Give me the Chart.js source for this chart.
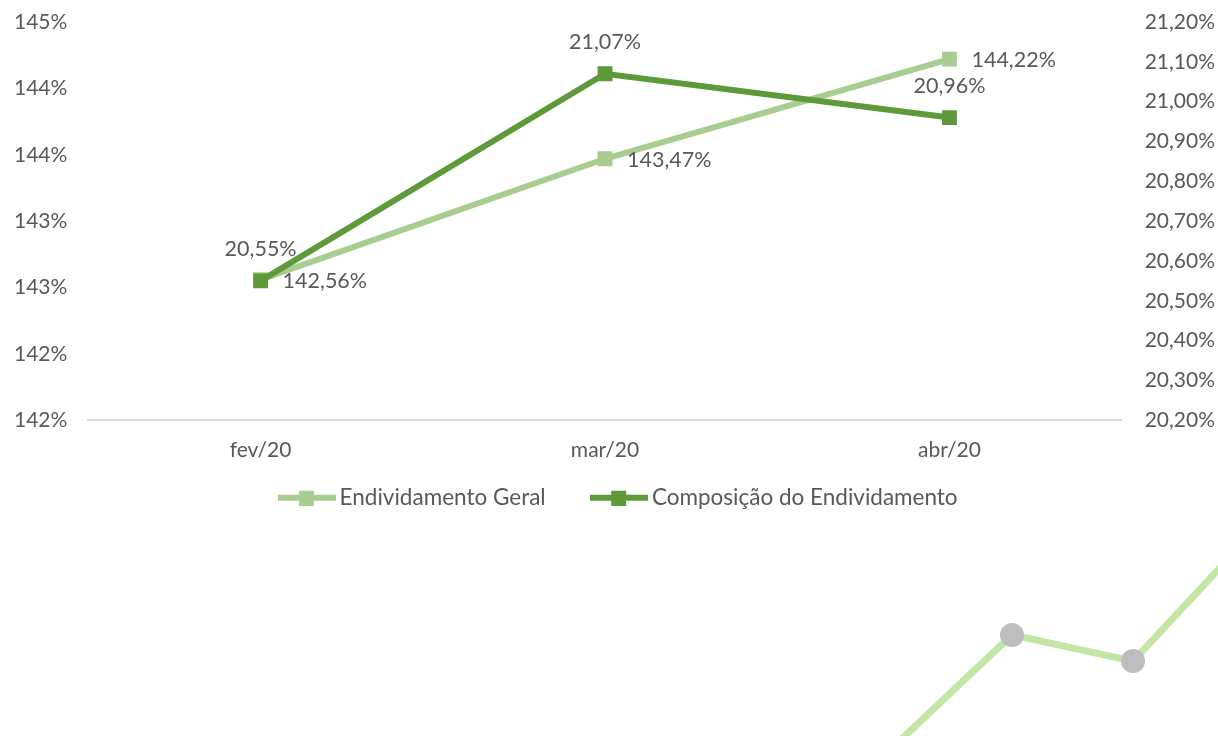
<!DOCTYPE html>
<html>
<head>
<meta charset="utf-8">
<script src="https://cdn.jsdelivr.net/npm/chart.js@4.4.1/dist/chart.umd.min.js"></script>
<style>
  html, body { margin: 0; padding: 0; background: #fff; overflow: hidden; }
  #wrap { position: relative; width: 1218px; height: 736px; }
  #grafico { position: absolute; left: 0; top: 0; }
  #fragmento { position: absolute; left: 891px; top: 520px; }
</style>
</head>
<body>
<div id="wrap">
  <canvas id="grafico" width="1218" height="530"></canvas>
  <canvas id="fragmento" width="363" height="216"></canvas>
</div>
<script>
const meses = ["fev/20", "mar/20", "abr/20"];
const endividamentoGeral = [142.56, 143.47, 144.22];
const composicaoEndividamento = [20.55, 21.07, 20.96];
const ticksEsquerda = ["142%", "142%", "143%", "143%", "144%", "144%", "145%"];
const ticksDireita = ["20,20%", "20,30%", "20,40%", "20,50%", "20,60%", "20,70%", "20,80%", "20,90%", "21,00%", "21,10%", "21,20%"];

// pedaço do outro gráfico que aparece cortado embaixo
const fragmentoValores = [-6, 46.8, 34.7, 94.7];

const corClara = "#A9CD90";
const corEscura = "#5E9A3A";
const corTexto = "#595959";
const fonte = "Lato, 'Open Sans', sans-serif";

function formatar(v) {
  return v.toFixed(2).replace(".", ",") + "%";
}

function iconeLegenda(cor) {
  const c = document.createElement("canvas");
  c.width = 58;
  c.height = 16;
  const g = c.getContext("2d");
  g.strokeStyle = cor;
  g.lineWidth = 6;
  g.beginPath();
  g.moveTo(0, 8);
  g.lineTo(58, 8);
  g.stroke();
  g.fillStyle = cor;
  g.fillRect(21, 1, 15, 15);
  return c;
}

const rotulos = {
  id: "rotulos",
  afterDatasetsDraw(chart) {
    const ctx = chart.ctx;
    ctx.save();
    ctx.font = "21.5px " + fonte;
    ctx.fillStyle = corTexto;
    ctx.textBaseline = "middle";
    chart.data.datasets.forEach((ds, i) => {
      const meta = chart.getDatasetMeta(i);
      meta.data.forEach((pt, j) => {
        const txt = formatar(ds.data[j]);
        if (ds.posRotulo === "direita") {
          ctx.textAlign = "left";
          ctx.fillText(txt, pt.x + 22, pt.y + 1);
        } else {
          ctx.textAlign = "center";
          ctx.fillText(txt, pt.x, pt.y - 32);
        }
      });
    });
    ctx.restore();
  }
};

// empurra a legenda um pouco para a direita
const ajusteLegenda = {
  id: "ajusteLegenda",
  afterLayout(chart) {
    chart.legend.left += 6;
    chart.legend.right += 6;
  }
};

function semFolgaVertical(scale) {
  scale.paddingTop = 0;
  scale.paddingBottom = 0;
}

new Chart(document.getElementById("grafico"), {
  type: "line",
  data: {
    labels: meses,
    datasets: [
      {
        label: "Endividamento Geral",
        data: endividamentoGeral,
        yAxisID: "yEsq",
        borderColor: corClara,
        backgroundColor: corClara,
        borderWidth: 6,
        pointStyle: "rect",
        pointRadius: 10.5,
        pointHoverRadius: 10.5,
        pointBorderWidth: 0,
        order: 1,
        posRotulo: "direita"
      },
      {
        label: "Composição do Endividamento",
        data: composicaoEndividamento,
        yAxisID: "yDir",
        borderColor: corEscura,
        backgroundColor: corEscura,
        borderWidth: 6,
        pointStyle: "rect",
        pointRadius: 10.5,
        pointHoverRadius: 10.5,
        pointBorderWidth: 0,
        order: 0,
        posRotulo: "acima"
      }
    ]
  },
  options: {
    responsive: false,
    animation: false,
    layout: { padding: { left: -7, right: -20, top: 22, bottom: 11 } },
    plugins: {
      tooltip: { enabled: false },
      legend: {
        position: "bottom",
        labels: {
          color: corTexto,
          font: { family: fonte, size: 22.5 },
          usePointStyle: true,
          pointStyleWidth: 43,
          padding: 7,
          sort: (a, b) => a.datasetIndex - b.datasetIndex,
          generateLabels(chart) {
            return chart.data.datasets.map((ds, i) => ({
              // espaço extra depois do primeiro item, como no original
              text: i === 0 ? ds.label + "\u2003\u2003\u2009\u2009\u2009\u2009" : ds.label,
              datasetIndex: i,
              fontColor: corTexto,
              pointStyle: iconeLegenda(ds.borderColor),
              lineWidth: 0,
              hidden: false
            }));
          }
        }
      }
    },
    scales: {
      x: {
        offset: true,
        grid: { display: false, drawTicks: false },
        border: { display: true, color: "#D9D9D9", width: 2 },
        ticks: { color: corTexto, font: { family: fonte, size: 21 }, padding: 17 }
      },
      yEsq: {
        position: "left",
        min: 141.5,
        max: 144.5,
        grid: { display: false, drawTicks: false },
        border: { display: false },
        afterFit: semFolgaVertical,
        ticks: {
          stepSize: 0.5,
          color: corTexto,
          font: { family: fonte, size: 21 },
          padding: 21,
          callback: (v, i) => ticksEsquerda[i]
        }
      },
      yDir: {
        position: "right",
        min: 20.2,
        max: 21.2,
        grid: { display: false, drawTicks: false },
        border: { display: false },
        afterFit: semFolgaVertical,
        ticks: {
          stepSize: 0.1,
          color: corTexto,
          font: { family: fonte, size: 21 },
          padding: 23,
          callback: (v, i) => ticksDireita[i]
        }
      }
    }
  },
  plugins: [rotulos, ajusteLegenda]
});

new Chart(document.getElementById("fragmento"), {
  type: "line",
  data: {
    labels: ["a", "b", "c", "d"],
    datasets: [{
      data: fragmentoValores,
      borderColor: "#C3E6A6",
      borderWidth: 7,
      pointRadius: [0, 12, 12, 0],
      pointBackgroundColor: "#BDBDBD",
      pointBorderWidth: 0,
      clip: false
    }]
  },
  options: {
    responsive: false,
    animation: false,
    layout: { padding: 0 },
    plugins: { legend: { display: false }, tooltip: { enabled: false } },
    scales: {
      x: { display: false, offset: false },
      y: { display: false, min: 0, max: 100 }
    }
  }
});
</script>
</body>
</html>
